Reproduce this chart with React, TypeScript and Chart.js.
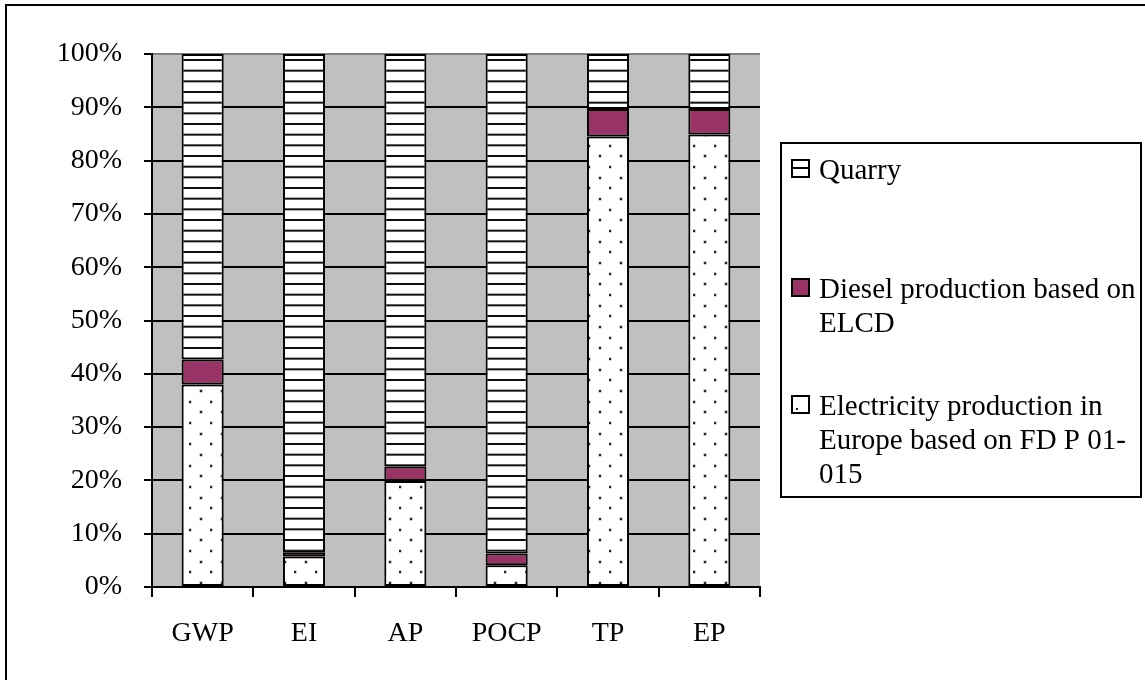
import React, { useEffect, useRef } from "react";
import { Chart, registerables } from "chart.js";

Chart.register(...registerables);

const categories = ["GWP", "EI", "AP", "POCP", "TP", "EP"];
const electricity = [38.0, 5.7, 19.9, 4.1, 84.5, 84.9];
const diesel = [4.7, 0.8, 2.7, 2.2, 5.2, 4.8];
const quarry = [57.3, 93.5, 77.4, 93.7, 10.3, 10.3];
const yTicks = [0, 10, 20, 30, 40, 50, 60, 70, 80, 90, 100];

const legendItems = [
  { key: "quarry", lines: ["Quarry"] },
  { key: "diesel", lines: ["Diesel production based on", "ELCD"] },
  { key: "electricity", lines: ["Electricity production in", "Europe based on FD P 01-", "015"] },
];

const SERIF = '"Liberation Serif", "Times New Roman", serif';
const DIESEL = "#993366";
const PLOT_BG = "#C0C0C0";

function makeStripes(): CanvasPattern | string {
  const c = document.createElement("canvas");
  c.width = 8;
  c.height = 32;
  const g = c.getContext("2d");
  if (!g) return "#fff";
  g.fillStyle = "#fff";
  g.fillRect(0, 0, 8, 32);
  g.fillStyle = "#111";
  [6.67, 17.33, 28].forEach((y) => g.fillRect(0, y - 1, 8, 2));
  const p = g.createPattern(c, "repeat");
  return p || "#fff";
}

function makeDots(): CanvasPattern | string {
  const c = document.createElement("canvas");
  c.width = 21;
  c.height = 64;
  const g = c.getContext("2d");
  if (!g) return "#fff";
  g.fillStyle = "#fff";
  g.fillRect(0, 0, 21, 64);
  const rows = [7, 17.67, 28.33, 39, 49.67, 60.33];
  rows.forEach((y, i) => {
    const x = i % 2 === 0 ? 12 : 1;
    const yy = Math.round(y);
    g.fillStyle = "#999";
    g.fillRect(x - 1.5, yy - 1.5, 3, 3);
    g.fillStyle = "#222";
    g.fillRect(x - 1, yy - 1, 2, 2);
  });
  const p = g.createPattern(c, "repeat");
  return p || "#fff";
}

export default function App() {
  const ref = useRef<HTMLCanvasElement | null>(null);

  useEffect(() => {
    const canvas = ref.current;
    if (!canvas) return;
    const stripes = makeStripes();
    const dots = makeDots();

    const framePlugin = {
      id: "frame",
      beforeDraw(chart: any) {
        const { ctx, chartArea } = chart;
        ctx.save();
        ctx.fillStyle = "#fff";
        ctx.fillRect(0, 0, chart.width, chart.height);
        ctx.fillStyle = PLOT_BG;
        ctx.fillRect(chartArea.left, chartArea.top, chartArea.right - chartArea.left, chartArea.bottom - chartArea.top);
        ctx.strokeStyle = "#000";
        ctx.lineWidth = 2;
        ctx.beginPath();
        ctx.moveTo(6, chart.height + 5);
        ctx.lineTo(6, 5);
        ctx.lineTo(chart.width + 5, 5);
        ctx.stroke();
        ctx.restore();
      },
      afterDraw(chart: any) {
        const { ctx } = chart;
        ctx.save();
        ctx.strokeStyle = "#000";
        ctx.lineWidth = 2;
        ctx.strokeRect(781, 143, 360, 354);
        const iconTops = [159, 278, 395];
        const baselines = [179, 298, 415];
        ctx.font = "29px " + SERIF;
        ctx.textBaseline = "alphabetic";
        ctx.textAlign = "left";
        legendItems.forEach((item, i) => {
          const top = iconTops[i];
          ctx.fillStyle = "#fff";
          ctx.fillRect(791, top, 18, 18);
          if (item.key === "quarry") {
            ctx.fillStyle = "#000";
            ctx.fillRect(791, top + 8, 18, 2);
          } else if (item.key === "diesel") {
            ctx.fillStyle = DIESEL;
            ctx.fillRect(791, top, 18, 18);
          } else {
            ctx.fillStyle = "#222";
            ctx.fillRect(796, top + 13, 2, 2);
          }
          ctx.strokeStyle = "#000";
          ctx.lineWidth = 2;
          ctx.strokeRect(792, top + 1, 17, 17);
          ctx.fillStyle = "#000";
          item.lines.forEach((ln, j) => {
            ctx.fillText(ln, 819, baselines[i] + j * 34);
          });
        });
        ctx.restore();
      },
    };

    const chart = new Chart(canvas, {
      type: "bar",
      data: {
        labels: categories,
        datasets: [
          {
            label: "Electricity production in Europe based on FD P 01-015",
            data: electricity,
            backgroundColor: dots as any,
            borderColor: "#000",
            borderWidth: 2,
            borderSkipped: false,
            barPercentage: 0.415,
            categoryPercentage: 1,
          },
          {
            label: "Diesel production based on ELCD",
            data: diesel,
            backgroundColor: DIESEL,
            borderColor: "#000",
            borderWidth: 2,
            borderSkipped: false,
            barPercentage: 0.415,
            categoryPercentage: 1,
          },
          {
            label: "Quarry",
            data: quarry,
            backgroundColor: stripes as any,
            borderColor: "#000",
            borderWidth: 2,
            borderSkipped: false,
            barPercentage: 0.415,
            categoryPercentage: 1,
          },
        ],
      },
      options: {
        animation: false,
        responsive: false,
        devicePixelRatio: 1,
        layout: { padding: { left: 0, top: 54, right: 385, bottom: 0 } },
        plugins: {
          legend: { display: false },
          tooltip: { enabled: false },
          title: { display: false },
        },
        scales: {
          x: {
            stacked: true,
            afterFit: (s: any) => {
              s.height = 93;
            },
            grid: {
              offset: true,
              drawOnChartArea: false,
              drawTicks: true,
              tickLength: 10,
              color: "#000",
              tickColor: "#000",
              lineWidth: 2,
            },
            border: { display: true, color: "#000", width: 2 },
            ticks: {
              color: "#000",
              font: { family: SERIF, size: 28 },
              padding: 20,
              maxRotation: 0,
            },
          },
          y: {
            stacked: true,
            min: 0,
            max: 100,
            afterFit: (s: any) => {
              s.width = 152;
            },
            afterBuildTicks: (s: any) => {
              s.ticks = yTicks.map((v) => ({ value: v }));
            },
            grid: {
              drawTicks: true,
              tickLength: 8,
              color: (c: any) => (c.tick && c.tick.value === 100 ? "#808080" : "#000"),
              tickColor: "#000",
              lineWidth: 2,
            },
            border: { display: true, color: "#000", width: 2 },
            ticks: {
              color: "#000",
              font: { family: SERIF, size: 28 },
              padding: 22,
              callback: (v: any) => v + "%",
            },
          },
        },
      },
      plugins: [framePlugin],
    });
    return () => chart.destroy();
  }, []);

  return (
    <div style={{ position: "fixed", left: 0, top: 0, width: 1145, height: 680, background: "#fff" }}>
      <canvas ref={ref} width={1145} height={680} style={{ display: "block" }} />
    </div>
  );
}
